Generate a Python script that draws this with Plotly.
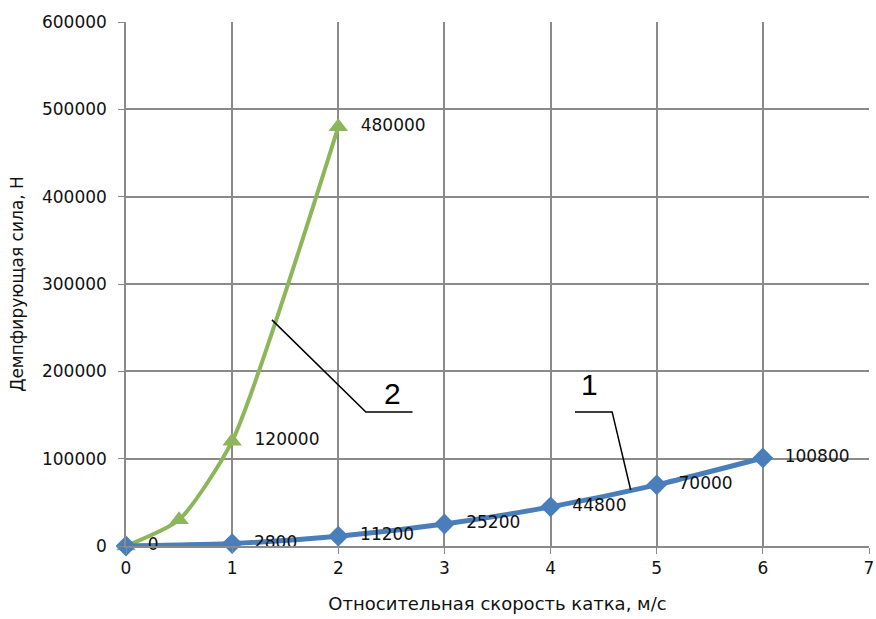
import plotly.graph_objects as go

# Data
speed_blue = [0, 1, 2, 3, 4, 5, 6]
force_blue = [0, 2800, 11200, 25200, 44800, 70000, 100800]
labels_blue = ["0", "2800", "11200", "25200", "44800", "70000", "100800"]

speed_green = [0, 0.5, 1, 2]
force_green = [0, 30000, 120000, 480000]
labels_green = ["", "", "120000", "480000"]

x_ticks = [0, 1, 2, 3, 4, 5, 6, 7]
y_ticks = [0, 100000, 200000, 300000, 400000, 500000, 600000]
y_tick_text = ["0", "100000", "200000", "300000", "400000", "500000", "600000"]

BLUE = "#4a7ebb"
GREEN = "#8db65a"
GRID = "#8a8a8a"
FONT = "DejaVu Sans"

fig = go.Figure()

fig.add_trace(go.Scatter(
    x=speed_green, y=force_green, mode="lines+markers+text",
    line=dict(color=GREEN, width=4, shape="spline", smoothing=0.6),
    marker=dict(symbol="triangle-up", size=17, color=GREEN),
    text=["  " + t if t else "" for t in labels_green],
    textposition="middle right",
    textfont=dict(family=FONT, size=17, color="#111111"),
    cliponaxis=False, showlegend=False,
))

fig.add_trace(go.Scatter(
    x=speed_blue, y=force_blue, mode="lines+markers+text",
    line=dict(color=BLUE, width=5, shape="spline", smoothing=0.6),
    marker=dict(symbol="diamond", size=16, color=BLUE),
    text=["  " + t for t in labels_blue],
    textposition="middle right",
    textfont=dict(family=FONT, size=17, color="#111111"),
    cliponaxis=False, showlegend=False,
))

# Callout leader lines
line_style = dict(color="black", width=1.5)
fig.add_shape(type="path", xref="x", yref="y",
              path="M 1.375 258900 L 2.26 153500 L 2.70 153500",
              line=line_style)
fig.add_shape(type="path", xref="x", yref="y",
              path="M 4.23 153500 L 4.58 153500 L 4.755 64100",
              line=line_style)
fig.add_annotation(x=2.51, y=175000, xref="x", yref="y", text="2",
                   showarrow=False, font=dict(family="Liberation Sans", size=30, color="black"))
fig.add_annotation(x=4.37, y=184400, xref="x", yref="y", text="1",
                   showarrow=False, font=dict(family="Liberation Sans", size=30, color="black"))

fig.update_layout(
    width=876, height=619,
    margin=dict(l=126, r=7, t=22, b=73),
    paper_bgcolor="white", plot_bgcolor="white",
    font=dict(family=FONT, size=17, color="#111111"),
)
fig.update_xaxes(
    range=[0, 7], tickvals=x_ticks, showgrid=True, gridcolor=GRID, gridwidth=1.5,
    showline=True, linecolor=GRID, linewidth=1.5, ticks="outside", ticklen=6,
    tickcolor=GRID, zeroline=False, automargin=False, ticklabeloverflow="allow",
    title=dict(text="Относительная скорость катка, м/с", font=dict(size=18), standoff=20),
    tickfont=dict(size=17),
)
fig.update_yaxes(
    range=[0, 600000], tickvals=y_ticks, ticktext=y_tick_text,
    showgrid=True, gridcolor=GRID, gridwidth=1.5,
    showline=True, linecolor=GRID, linewidth=1.5, ticks="outside", ticklen=6,
    tickcolor=GRID, zeroline=False, ticklabelstandoff=8, automargin=False,
    title=dict(text="Демпфирующая сила, Н", font=dict(size=17), standoff=14),
    tickfont=dict(size=17),
)

fig.write_html(
    "out.html",
    config={"displayModeBar": False},
    post_script="document.body.style.margin='0';document.body.style.overflow='hidden';",
)
